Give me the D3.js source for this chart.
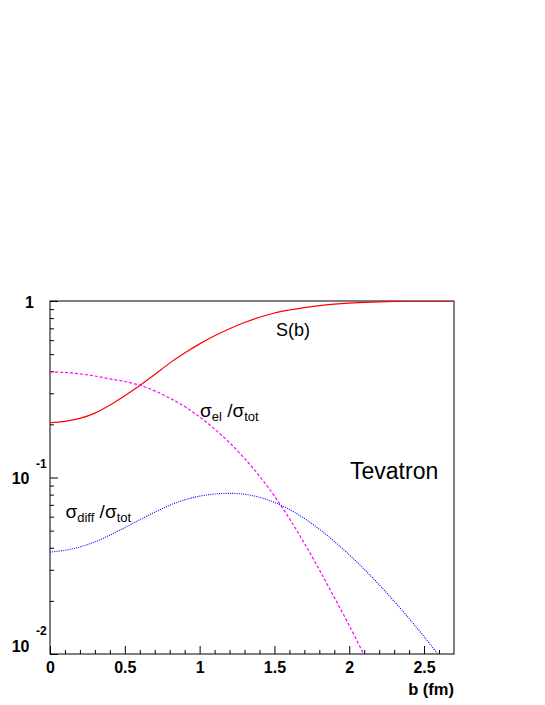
<!DOCTYPE html>
<html>
<head>
<meta charset="utf-8">
<script src="https://cdn.jsdelivr.net/npm/d3@7"></script>
<style>
  html, body { margin: 0; padding: 0; background: #fff; }
  svg { display: block; }
  text { font-family: "Liberation Sans", Arial, Helvetica, sans-serif; }
</style>
</head>
<body>
<div id="chart"></div>
<script>
// ---- data ----
const bValues = [0,0.1,0.2,0.3,0.4,0.5,0.6,0.7,0.8,0.9,1.0,1.1,1.2,1.3,1.4,1.5,1.6,1.7,1.8,1.9,2.0,2.1,2.2,2.3,2.4,2.5,2.6,2.7];
const sValues = [0.2042,0.2080,0.2163,0.2317,0.2570,0.2904,0.3319,0.3837,0.4446,0.5070,0.5715,0.6353,0.6966,0.7551,0.8091,0.8551,0.8892,0.9183,0.9419,0.9594,0.9727,0.9829,0.9897,0.9940,0.9968,0.9984,0.9993,0.9998];
const elValues = [0.3963,0.3936,0.3864,0.3758,0.3622,0.3499,0.3334,0.3097,0.2818,0.2523,0.2203,0.1884,0.1574,0.1282,0.1019,0.0785,0.0585,0.0424,0.0300,0.0209,0.0145,0.00984];
const diffValues = [0.03780,0.03868,0.04041,0.04320,0.04714,0.05205,0.05761,0.06359,0.06959,0.07470,0.07840,0.08060,0.08134,0.08035,0.07727,0.07228,0.06592,0.05861,0.05093,0.04345,0.03648,0.03020,0.02466,0.01991,0.01589,0.01253,0.00979];
const xMajorTicks = [0,0.5,1,1.5,2,2.5];
const xTickLabels = ["0","0.5","1","1.5","2","2.5"];
const yMajorTicks = [0.01,0.1,1];
const xDomain = [0, 2.7];
const yDomain = [0.01, 1];

// ---- layout ----
const W = 545, H = 705;
const L = 50, R = 454, T = 301, B = 654;

const svg = d3.select("#chart").append("svg").attr("width", W).attr("height", H);

const x = d3.scaleLinear().domain(xDomain).range([L, R]);
const y = d3.scaleLog().domain(yDomain).range([B, T]);

svg.append("defs").append("clipPath").attr("id", "clip")
  .append("rect").attr("x", L).attr("y", T).attr("width", R - L).attr("height", B - T);

// frame
svg.append("rect").attr("x", L).attr("y", T).attr("width", R - L).attr("height", B - T)
  .attr("fill", "none").attr("stroke", "#000").attr("stroke-width", 1);

// x axis minor ticks
const xMinor = d3.range(0, 27).map(i => i / 10).filter(v => Math.abs(v * 2 - Math.round(v * 2)) > 1e-6);
svg.append("g").attr("transform", `translate(0,${B})`)
  .call(d3.axisBottom(x).tickValues(xMinor).tickSize(-4).tickFormat(""))
  .call(g => g.select(".domain").remove())
  .call(g => g.selectAll("line").attr("stroke", "#000"));
// x axis major ticks + labels
const xAxisG = svg.append("g").attr("transform", `translate(0,${B})`)
  .call(d3.axisBottom(x).tickValues(xMajorTicks).tickSize(-8).tickPadding(8)
    .tickFormat((d, i) => xTickLabels[i]))
  .call(g => g.select(".domain").remove())
  .call(g => g.selectAll("line").attr("stroke", "#000"));
xAxisG.selectAll("text").attr("font-size", 16).attr("font-weight", "bold")
  .attr("fill", "#000").attr("font-family", "Liberation Sans, Arial, sans-serif");

// y axis minor ticks
const yMinor = [];
[0.01, 0.1].forEach(dec => { for (let k = 2; k <= 9; k++) yMinor.push(dec * k); });
svg.append("g").attr("transform", `translate(${L},0)`)
  .call(d3.axisLeft(y).tickValues(yMinor).tickSize(-4).tickFormat(""))
  .call(g => g.select(".domain").remove())
  .call(g => g.selectAll("line").attr("stroke", "#000"));
svg.append("g").attr("transform", `translate(${L},0)`)
  .call(d3.axisLeft(y).tickValues(yMajorTicks).tickSize(-8).tickFormat(""))
  .call(g => g.select(".domain").remove())
  .call(g => g.selectAll("line").attr("stroke", "#000"));

// y tick labels (ROOT style)
const yl = svg.append("g").attr("font-weight", "bold").attr("fill", "#000");
yl.append("text").attr("x", 34).attr("y", y(1) + 6.5).attr("text-anchor", "end")
  .attr("font-size", 16).text("1");
[[0.1, "-1", 6.5, -10], [0.01, "-2", -2.5, -19]].forEach(([v, e, dy, edy]) => {
  yl.append("text").attr("x", 29.5).attr("y", y(v) + dy).attr("text-anchor", "end")
    .attr("font-size", 16).text("10");
  yl.append("text").attr("x", 36).attr("y", y(v) + edy).attr("text-anchor", "start")
    .attr("font-size", 12).text(e);
});

// axis title
svg.append("text").attr("x", R).attr("y", 695).attr("text-anchor", "end")
  .attr("font-size", 16.5).attr("font-weight", "bold").text("b (fm)");

// ---- curves ----
const line = d3.line().x(d => x(d[0])).y(d => y(d[1])).curve(d3.curveCatmullRom.alpha(0.5));
const plot = svg.append("g").attr("clip-path", "url(#clip)");

plot.append("path").datum(bValues.slice(0, sValues.length).map((b, i) => [b, sValues[i]]))
  .attr("d", line).attr("fill", "none").attr("stroke", "#ff0000").attr("stroke-width", 1.2);
plot.append("path").datum(bValues.slice(0, elValues.length).map((b, i) => [b, elValues[i]]))
  .attr("d", line).attr("fill", "none").attr("stroke", "#ff00ff").attr("stroke-width", 1.2)
  .attr("stroke-dasharray", "3,2");
plot.append("path").datum(bValues.slice(0, diffValues.length).map((b, i) => [b, diffValues[i]]))
  .attr("d", line).attr("fill", "none").attr("stroke", "#0000ff").attr("stroke-width", 1.1)
  .attr("stroke-dasharray", "1,1.2");

// ---- annotations ----
svg.append("text").attr("x", 276).attr("y", 336).attr("font-size", 18).text("S(b)");

function sigmaLabel(x0, y0, sub1) {
  const t = svg.append("text").attr("x", x0).attr("y", y0).attr("font-size", 19);
  t.append("tspan").text("σ");
  t.append("tspan").attr("font-size", 13).attr("dy", 4).text(sub1);
  t.append("tspan").attr("dy", -4).text(" /σ");
  t.append("tspan").attr("font-size", 13).attr("dy", 4).text("tot");
}
sigmaLabel(200, 416.5, "el");
sigmaLabel(65.5, 518, "diff");

svg.append("text").attr("x", 350).attr("y", 479).attr("font-size", 23).text("Tevatron");
</script>
</body>
</html>
